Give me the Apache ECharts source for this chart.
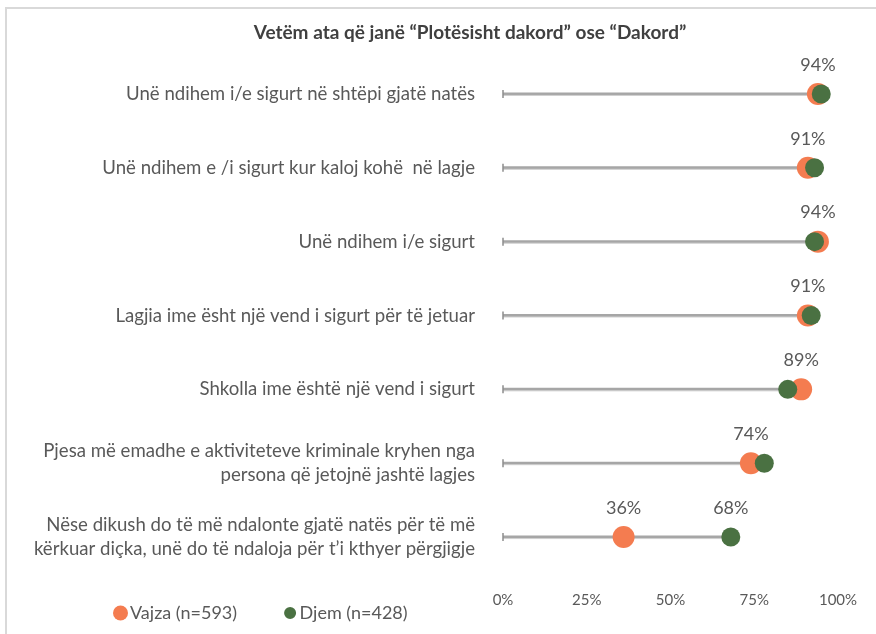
<!DOCTYPE html>
<html>
<head>
<meta charset="utf-8">
<script src="https://cdn.jsdelivr.net/npm/echarts@6/dist/echarts.min.js"></script>
<style>
  html, body { margin: 0; padding: 0; background: #fff; }
  #chart { width: 876px; height: 634px; }
</style>
</head>
<body>
<div id="chart"></div>
<script>
// statements, top to bottom
let categories = [
  'Unë ndihem i/e sigurt në shtëpi gjatë natës',
  'Unë ndihem e /i sigurt kur kaloj kohë  në lagje',
  'Unë ndihem i/e sigurt',
  'Lagjia ime ësht një vend i sigurt për të jetuar',
  'Shkolla ime është një vend i sigurt',
  'Pjesa më emadhe e aktiviteteve kriminale kryhen nga\npersona që jetojnë jashtë lagjes',
  'Nëse dikush do të më ndalonte gjatë natës për të më\nkërkuar diçka, unë do të ndaloja për t’i kthyer përgjigje'
];
let vajza = [94, 91, 94, 91, 89, 74, 36];
let djem = [95, 93, 93, 92, 85, 78, 68];
// Djem labels only shown on the last row
let djemLabelRows = [6];
let xTicks = [0, 25, 50, 75, 100];

let textColor = '#595959';
let font = "Lato, 'Liberation Sans', sans-serif";

let lineData = categories.map((c, i) => [i, Math.max(vajza[i], djem[i])]);

let option = {
  animation: false,
  backgroundColor: '#fff',
  title: {
    text: 'Vetëm ata që janë “Plotësisht dakord” ose “Dakord”',
    left: 465,
    textAlign: 'center',
    top: 18,
    textStyle: { fontFamily: font, fontSize: 19, fontWeight: 'bold', color: '#404040' }
  },
  legend: {
    left: 108,
    top: 599,
    itemGap: 44,
    itemWidth: 15,
    itemHeight: 15,
    textStyle: { fontFamily: font, fontSize: 18, color: textColor, padding: [0, 0, 0, -3] },
    data: [
      { name: 'Vajza (n=593)', icon: 'circle' },
      { name: 'Djem (n=428)', icon: 'circle', itemStyle: { borderWidth: 3, borderColor: '#fff' } }
    ]
  },
  graphic: [
    { type: 'polyline', shape: { points: [[6, 640], [6, 8], [880, 8]] },
      style: { stroke: '#d9d9d9', lineWidth: 2, fill: null } }
  ],
  grid: { left: 503, right: 38, top: 57, bottom: 60 },
  xAxis: {
    type: 'value',
    min: 0, max: 100, interval: 25,
    axisLine: { show: false },
    axisTick: { show: false },
    splitLine: { show: false },
    axisLabel: {
      formatter: v => xTicks.includes(v) ? v + '%' : '',
      fontFamily: font, fontSize: 15, color: textColor, margin: 19
    }
  },
  yAxis: {
    type: 'category',
    inverse: true,
    data: categories,
    axisLine: { show: false },
    axisTick: { show: false },
    axisLabel: {
      fontFamily: font, fontSize: 18.6, color: textColor, margin: 28,
      align: 'right', lineHeight: 24
    }
  },
  series: [
    {
      type: 'custom',
      name: 'line',
      silent: true,
      data: lineData,
      encode: { x: 1, y: 0 },
      renderItem: (params, api) => {
        let row = api.value(0);
        let start = api.coord([0, row]);
        let end = api.coord([api.value(1), row]);
        return {
          type: 'group',
          children: [
            { type: 'line', shape: { x1: start[0], y1: start[1], x2: end[0], y2: end[1] },
              style: { stroke: '#a6a6a6', lineWidth: 3 } },
            { type: 'line', shape: { x1: start[0], y1: start[1] + 1.5, x2: end[0], y2: end[1] + 1.5 },
              style: { stroke: '#d0d0d0', lineWidth: 1 } },
            { type: 'line', shape: { x1: start[0], y1: start[1] - 4, x2: start[0], y2: start[1] + 4 },
              style: { stroke: '#8c8c8c', lineWidth: 1.5 } }
          ]
        };
      }
    },
    {
      name: 'Vajza (n=593)',
      type: 'scatter',
      symbol: 'circle',
      symbolSize: 22,
      itemStyle: { color: '#f47c50', opacity: 1 },
      data: vajza.map((v, i) => [v, i]),
      label: {
        show: true, position: 'top', distance: 9,
        formatter: p => p.value[0] + '%',
        fontFamily: font, fontSize: 18, color: textColor
      },
      z: 3
    },
    {
      name: 'Djem (n=428)',
      type: 'scatter',
      symbol: 'circle',
      symbolSize: 19,
      itemStyle: { color: '#4a7142', opacity: 1 },
      data: djem.map((v, i) => ({ value: [v, i], label: { show: djemLabelRows.includes(i) } })),
      label: {
        show: false, position: 'top', distance: 10,
        formatter: p => p.value[0] + '%',
        fontFamily: font, fontSize: 18, color: textColor
      },
      z: 4
    }
  ]
};

let myChart = echarts.init(document.getElementById('chart'));
myChart.setOption(option);
</script>
</body>
</html>
